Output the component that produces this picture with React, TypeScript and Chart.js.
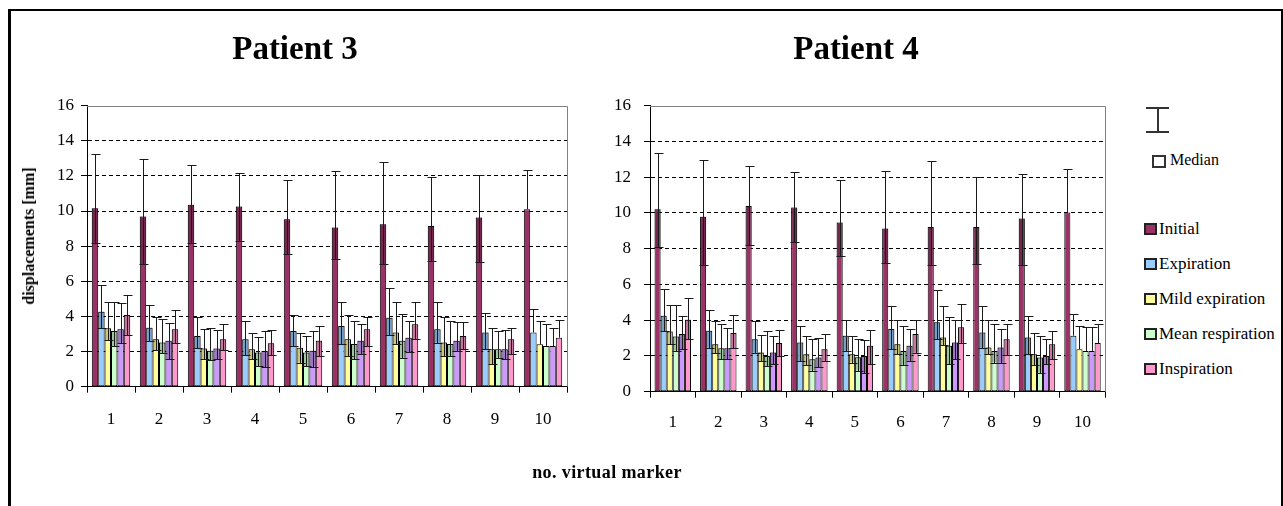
import React, { useEffect, useRef } from "react";
import { Chart, registerables } from "chart.js";

Chart.register(...registerables);

// ---------- data ----------
const markers = ["1", "2", "3", "4", "5", "6", "7", "8", "9", "10"];
const seriesNames = ["Initial", "Expiration", "Mild expiration", "Mean respiration", "Series 5", "Inspiration"];
const seriesColors = ["#993366", "#99ccff", "#ffff99", "#ccffcc", "#cc99ff", "#ff99cc"];
const legendNames = ["Initial", "Expiration", "Mild expiration", "Mean respiration", "Inspiration"];
const legendColors = ["#993366", "#99ccff", "#ffff99", "#ccffcc", "#ff99cc"];

// Patient 3 (median, lower, upper)
const p3Initial = [10.16, 9.69, 10.35, 10.26, 9.53, 9.06, 9.25, 9.15, 9.63, 10.1];
const p3InitialLo = [8.2, 6.99, 8.2, 8.32, 7.56, 7.26, 6.99, 7.18, 7.07, null];
const p3InitialHi = [13.26, 12.95, 12.63, 12.16, 11.78, 12.25, 12.78, 11.93, 12.06, 12.35];

const p3Expiration = [4.27, 3.36, 2.89, 2.7, 3.17, 3.46, 3.93, 3.27, 3.08, 3.08];
const p3ExpirationLo = [3.32, 2.62, 2.18, 1.8, 2.32, 2.43, 2.94, 2.51, 2.13, null];
const p3ExpirationHi = [5.8, 4.65, 3.99, 3.74, 4.08, 4.84, 5.6, 4.84, 4.22, 4.41];

const p3Mild = [3.32, 2.7, 2.18, 2.13, 2.22, 2.7, 3.08, 2.51, 2.13, 2.41];
const p3MildLo = [2.66, 2.09, 1.56, 1.56, 1.37, 1.75, 2.41, 1.75, 1.27, null];
const p3MildHi = [4.84, 3.99, 3.27, 3.08, 3.08, 4.08, 4.84, 3.99, 3.36, 3.74];

const p3Mean = [3.17, 2.51, 2.05, 1.94, 1.94, 2.43, 2.62, 2.43, 2.13, 2.32];
const p3MeanLo = [2.32, 1.9, 1.52, 1.18, 1.18, 1.56, 1.65, 1.75, 1.65, null];
const p3MeanHi = [4.84, 3.84, 3.32, 2.85, 2.89, 3.74, 4.12, 3.74, 3.17, 3.55];

const p3Fifth = [3.27, 2.62, 2.18, 2.03, 2.05, 2.62, 2.79, 2.62, 2.13, 2.32];
const p3FifthLo = [2.5, 1.56, 1.56, 1.1, 1.14, 1.84, 1.99, 2.05, 1.56, null];
const p3FifthHi = [4.79, 3.65, 3.23, 3.19, 3.19, 3.55, 3.74, 3.7, 3.23, 3.36];

const p3Inspiration = [4.08, 3.27, 2.7, 2.47, 2.62, 3.27, 3.55, 2.89, 2.7, 2.79];
const p3InspirationLo = [2.94, 2.5, 2.09, 1.8, 1.75, 2.32, 2.7, 2.13, 1.84, null];
const p3InspirationHi = [5.22, 4.37, 3.57, 3.23, 3.46, 3.99, 4.84, 3.7, 3.36, 3.8];

// Patient 4 (median, lower, upper)
const p4Initial = [10.21, 9.79, 10.39, 10.3, 9.46, 9.12, 9.21, 9.21, 9.68, 10.02];
const p4InitialLo = [8.09, 7.08, 8.18, 8.37, 7.58, 7.17, 7.08, 7.12, 7.08, null];
const p4InitialHi = [13.35, 12.98, 12.6, 12.27, 11.85, 12.32, 12.88, 12.02, 12.17, 12.45];

const p4Expiration = [4.25, 3.41, 2.94, 2.75, 3.13, 3.5, 3.88, 3.31, 3.03, 3.13];
const p4ExpirationLo = [3.37, 2.47, 2.19, 1.72, 2.3, 2.38, 2.94, 2.47, 2.1, null];
const p4ExpirationHi = [5.77, 4.59, 3.97, 3.65, 4.03, 4.78, 5.71, 4.78, 4.21, 4.34];

const p4Mild = [3.37, 2.66, 2.19, 2.1, 2.1, 2.66, 3.03, 2.47, 2.1, 2.38];
const p4MildLo = [2.66, 2.15, 1.7, 1.5, 1.63, 2.1, 2.6, 2.1, 1.5, null];
const p4MildHi = [4.87, 3.97, 3.18, 3.09, 3.13, 4.03, 4.78, 4.03, 3.31, 3.69];

const p4Mean = [3.09, 2.43, 2.0, 1.82, 1.93, 2.28, 2.57, 2.28, 1.91, 2.28];
const p4MeanLo = [2.3, 1.82, 1.44, 1.18, 1.18, 1.5, 1.54, 1.63, 1.07, null];
const p4MeanHi = [4.87, 3.78, 3.41, 2.94, 2.94, 3.65, 4.16, 3.78, 3.13, 3.6];

const p4Fifth = [3.22, 2.43, 2.19, 1.91, 2.0, 2.57, 2.75, 2.47, 2.0, 2.28];
const p4FifthLo = [2.38, 1.82, 1.54, 1.37, 1.07, 1.74, 1.82, 1.63, 1.54, null];
const p4FifthHi = [4.21, 3.56, 3.09, 3.0, 2.87, 3.5, 4.03, 3.5, 2.94, 3.6];

const p4Inspiration = [4.03, 3.28, 2.72, 2.38, 2.57, 3.22, 3.6, 2.94, 2.66, 2.72];
const p4InspirationLo = [2.94, 2.43, 2.0, 1.74, 1.54, 2.19, 2.75, 2.06, 1.82, null];
const p4InspirationHi = [5.24, 4.31, 3.46, 3.22, 3.46, 4.03, 4.91, 3.78, 3.41, 3.8];

const p3Med = [p3Initial, p3Expiration, p3Mild, p3Mean, p3Fifth, p3Inspiration];
const p3Lo = [p3InitialLo, p3ExpirationLo, p3MildLo, p3MeanLo, p3FifthLo, p3InspirationLo];
const p3Hi = [p3InitialHi, p3ExpirationHi, p3MildHi, p3MeanHi, p3FifthHi, p3InspirationHi];
const p4Med = [p4Initial, p4Expiration, p4Mild, p4Mean, p4Fifth, p4Inspiration];
const p4Lo = [p4InitialLo, p4ExpirationLo, p4MildLo, p4MeanLo, p4FifthLo, p4InspirationLo];
const p4Hi = [p4InitialHi, p4ExpirationHi, p4MildHi, p4MeanHi, p4FifthHi, p4InspirationHi];

const Y_MIN = 0;
const Y_MAX = 16;
const Y_STEP = 2;

const SERIF = "'Liberation Serif', 'Times New Roman', serif";

// ---------- plugins ----------
const errorBarPlugin = {
  id: "errorBars",
  afterDatasetsDraw(chart: any) {
    const ctx = chart.ctx;
    const y = chart.scales.y;
    chart.data.datasets.forEach((ds: any, i: number) => {
      const meta = chart.getDatasetMeta(i);
      meta.data.forEach((bar: any, j: number) => {
        const { x, width } = bar.getProps(["x", "width"], true);
        const med = ds.data[j];
        const hi = ds.errHi[j];
        const lo = ds.errLo[j];
        const yMed = y.getPixelForValue(med);
        const yHi = Math.round(y.getPixelForValue(hi)) + 0.5;
        const xc = Math.round(x) + 0.5;
        const cap = 4;
        ctx.save();
        let yStart = yMed;
        if (lo != null) {
          const yLo = y.getPixelForValue(lo);
          ctx.fillStyle = "rgba(0,0,0,0.22)";
          ctx.fillRect(x - width / 2, yMed, width, yLo - yMed);
          yStart = Math.round(yLo) + 0.5;
        }
        ctx.strokeStyle = "#1a1a1a";
        ctx.lineWidth = 1;
        ctx.beginPath();
        ctx.moveTo(xc, yStart);
        ctx.lineTo(xc, yHi);
        ctx.moveTo(xc - cap, yHi);
        ctx.lineTo(xc + cap + 1, yHi);
        if (lo != null) {
          ctx.moveTo(xc - cap, yStart);
          ctx.lineTo(xc + cap + 1, yStart);
        }
        ctx.stroke();
        ctx.restore();
      });
    });
  },
};

const framePlugin = {
  id: "plotFrame",
  beforeDatasetsDraw(chart: any) {
    const { ctx, chartArea } = chart;
    const { left, right, top, bottom } = chartArea;
    ctx.save();
    ctx.strokeStyle = "#808080";
    ctx.lineWidth = 1;
    ctx.beginPath();
    ctx.moveTo(left, Math.round(top) + 0.5);
    ctx.lineTo(Math.round(right) + 0.5, Math.round(top) + 0.5);
    ctx.lineTo(Math.round(right) + 0.5, bottom);
    ctx.stroke();
    ctx.restore();
  },
};

type PatientProps = {
  title: string;
  med: number[][];
  lo: (number | null)[][];
  hi: number[][];
  left: number;
  width: number;
  yWidth: number;
  xHeight: number;
  padRight: number;
  xPad: number;
  yPad: number;
};

function PatientChart(props: PatientProps) {
  const ref = useRef<HTMLCanvasElement | null>(null);
  useEffect(() => {
    if (!ref.current) return;
    const datasets = props.med.map((m, i) => ({
      label: seriesNames[i],
      data: m,
      errLo: props.lo[i],
      errHi: props.hi[i],
      backgroundColor: seriesColors[i],
      borderColor: "#000",
      borderWidth: 1,
      borderSkipped: false,
      categoryPercentage: 0.8,
      barPercentage: 1.0,
    }));
    const chart = new Chart(ref.current, {
      type: "bar",
      data: { labels: markers, datasets: datasets as any },
      options: {
        animation: false,
        responsive: false,
        devicePixelRatio: 1,
        layout: { padding: { left: 0, right: props.padRight, top: 0, bottom: 0 } },
        plugins: {
          legend: { display: false },
          tooltip: { enabled: false },
          title: {
            display: true,
            text: props.title,
            color: "#000",
            font: { family: SERIF, size: 33, weight: "bold", lineHeight: 1.2 },
            padding: { top: 21, bottom: 35 },
          },
        },
        scales: {
          x: {
            grid: {
              display: true,
              drawOnChartArea: false,
              drawTicks: true,
              tickLength: 6,
              color: "#000",
              tickColor: "#000",
              offset: true,
            },
            border: { display: true, color: "#000", width: 1 },
            ticks: {
              color: "#000",
              font: { family: SERIF, size: 17 },
              padding: props.xPad,
              maxRotation: 0,
            },
            afterFit: (s: any) => {
              s.height = props.xHeight;
            },
          },
          y: {
            min: Y_MIN,
            max: Y_MAX,
            grid: {
              color: (c: any) => (c.tick && c.tick.value === Y_MAX ? "rgba(0,0,0,0)" : "#000"),
              tickColor: "#000",
              tickLength: 6,
              lineWidth: 1,
            },
            border: { display: true, color: "#000", width: 1, dash: [4, 3] },
            ticks: {
              stepSize: Y_STEP,
              color: "#000",
              font: { family: SERIF, size: 17 },
              padding: props.yPad,
            },
            afterFit: (s: any) => {
              s.width = props.yWidth;
            },
          },
        },
      },
      plugins: [framePlugin, errorBarPlugin],
    });
    return () => chart.destroy();
  }, []);
  return (
    <canvas
      ref={ref}
      width={props.width}
      height={460}
      style={{ position: "absolute", left: props.left, top: 10, width: props.width, height: 460 }}
    />
  );
}

export default function App() {
  const legendTop = [229, 264, 299, 334, 369];
  return (
    <div
      style={{
        position: "fixed",
        left: 0,
        top: 0,
        width: 1283,
        height: 506,
        background: "#fff",
        overflow: "hidden",
        fontFamily: SERIF,
        color: "#000",
      }}
    >
      <div
        style={{
          position: "absolute",
          left: 8,
          top: 9,
          width: 1270,
          height: 520,
          borderTop: "2px solid #000",
          borderLeft: "3px solid #000",
          borderRight: "2px solid #000",
        }}
      />
      <PatientChart
        title="Patient 3"
        med={p3Med}
        lo={p3Lo}
        hi={p3Hi}
        left={23}
        width={557}
        yWidth={64}
        xHeight={83.3}
        padRight={13}
        xPad={17}
        yPad={7}
      />
      <PatientChart
        title="Patient 4"
        med={p4Med}
        lo={p4Lo}
        hi={p4Hi}
        left={606}
        width={500}
        yWidth={44}
        xHeight={78.3}
        padRight={0}
        xPad={15}
        yPad={13}
      />
      <div
        style={{
          position: "absolute",
          left: 29,
          top: 236,
          transform: "translate(-50%, -50%) rotate(-90deg)",
          whiteSpace: "nowrap",
          fontWeight: "bold",
          fontSize: 16,
        }}
      >
        displacements [mm]
      </div>
      <div
        style={{
          position: "absolute",
          left: 607,
          top: 472,
          transform: "translate(-50%, -50%)",
          whiteSpace: "nowrap",
          fontWeight: "bold",
          fontSize: 18,
          letterSpacing: 0.4,
        }}
      >
        no. virtual marker
      </div>
      {/* error-bar legend symbol */}
      <div style={{ position: "absolute", left: 1146, top: 107, width: 23, height: 2, background: "#333" }} />
      <div style={{ position: "absolute", left: 1157, top: 107, width: 2, height: 26, background: "#333" }} />
      <div style={{ position: "absolute", left: 1146, top: 131, width: 23, height: 2, background: "#333" }} />
      <div
        style={{
          position: "absolute",
          left: 1152,
          top: 155,
          width: 10,
          height: 9,
          border: "2px solid #333",
          background: "#fff",
        }}
      />
      <div
        style={{
          position: "absolute",
          left: 1170,
          top: 160,
          transform: "translateY(-50%)",
          fontSize: 16,
          whiteSpace: "nowrap",
        }}
      >
        Median
      </div>
      {legendNames.map((n, i) => (
        <React.Fragment key={n}>
          <div
            style={{
              position: "absolute",
              left: 1144,
              top: legendTop[i] - 6,
              width: 9,
              height: 8,
              border: "2px solid #222",
              background: legendColors[i],
            }}
          />
          <div
            style={{
              position: "absolute",
              left: 1159,
              top: legendTop[i],
              transform: "translateY(-50%)",
              fontSize: 17,
              whiteSpace: "nowrap",
            }}
          >
            {n}
          </div>
        </React.Fragment>
      ))}
    </div>
  );
}
